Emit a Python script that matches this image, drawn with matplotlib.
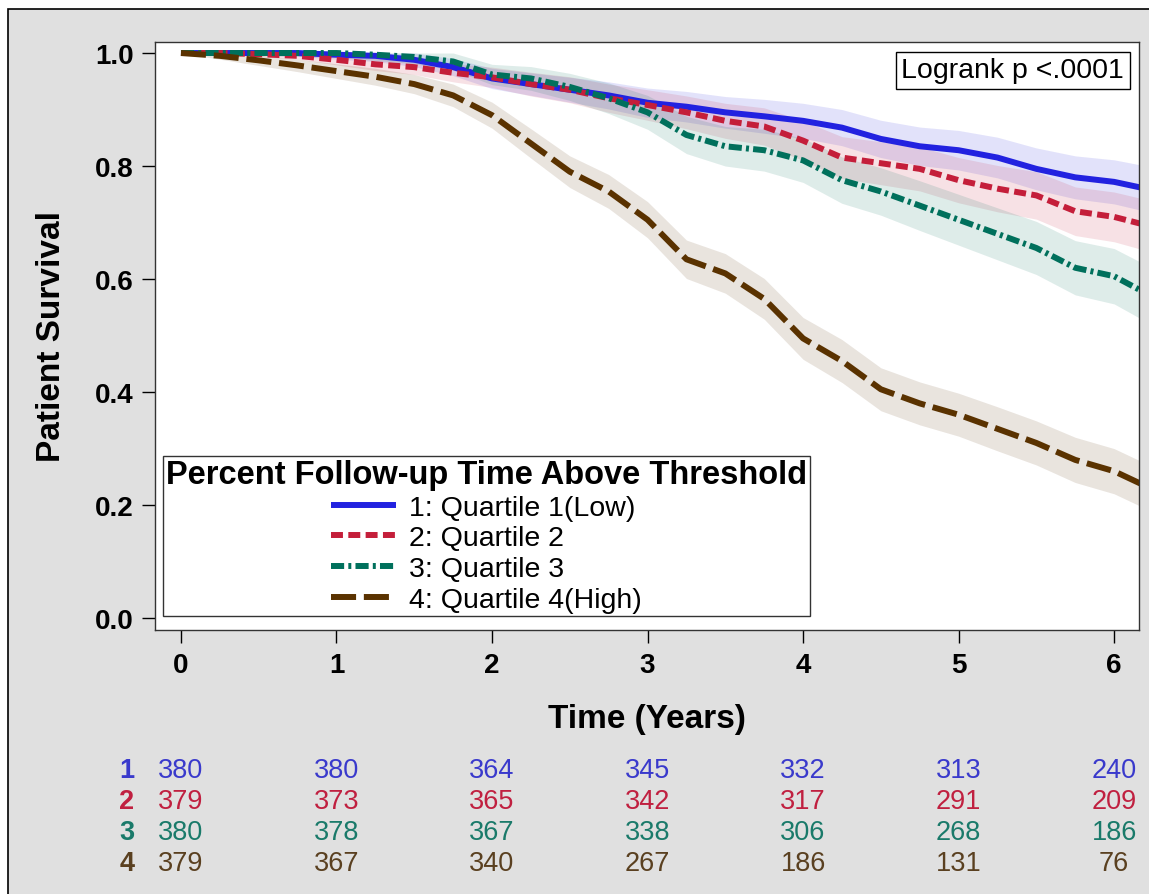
import numpy as np
import matplotlib
matplotlib.use('Agg')
import matplotlib.pyplot as plt
import matplotlib.transforms as mtransforms
from matplotlib.patches import Rectangle

plt.rcParams['font.family'] = ['Liberation Sans', 'DejaVu Sans']

# time grid (years)
times = [0, 0.25, 0.5, 0.75, 1.0, 1.25, 1.5, 1.75, 2.0, 2.25, 2.5, 2.75, 3.0,
         3.25, 3.5, 3.75, 4.0, 4.25, 4.5, 4.75, 5.0, 5.25, 5.5, 5.75, 6.0, 6.17]

surv_q1 = [1.0, 1.0, 1.0, 1.0, 0.997, 0.995, 0.988, 0.975, 0.955, 0.945, 0.935, 0.925, 0.912,
           0.905, 0.895, 0.888, 0.88, 0.868, 0.848, 0.835, 0.828, 0.815, 0.795, 0.78, 0.772, 0.762]
surv_q2 = [1.0, 1.0, 0.998, 0.995, 0.988, 0.98, 0.975, 0.965, 0.957, 0.945, 0.935, 0.92, 0.908,
           0.895, 0.88, 0.87, 0.845, 0.815, 0.805, 0.795, 0.775, 0.76, 0.748, 0.72, 0.71, 0.698]
surv_q3 = [1.0, 1.0, 1.0, 1.0, 1.0, 0.997, 0.993, 0.985, 0.962, 0.955, 0.94, 0.92, 0.895,
           0.855, 0.835, 0.828, 0.81, 0.775, 0.755, 0.73, 0.705, 0.68, 0.655, 0.62, 0.605, 0.58]
surv_q4 = [1.0, 0.995, 0.987, 0.978, 0.968, 0.958, 0.945, 0.925, 0.89, 0.84, 0.79, 0.755, 0.705,
           0.635, 0.61, 0.565, 0.495, 0.455, 0.405, 0.38, 0.36, 0.335, 0.31, 0.28, 0.26, 0.238]

# half width of the confidence bands
band_q1 = [0, 0.002, 0.004, 0.006, 0.008, 0.01, 0.012, 0.015, 0.018, 0.02, 0.022, 0.024, 0.026,
           0.027, 0.028, 0.03, 0.031, 0.032, 0.033, 0.034, 0.035, 0.036, 0.037, 0.038, 0.039, 0.04]
band_q2 = [0, 0.002, 0.004, 0.006, 0.009, 0.011, 0.013, 0.016, 0.018, 0.021, 0.023, 0.025, 0.027,
           0.029, 0.031, 0.033, 0.035, 0.037, 0.038, 0.039, 0.04, 0.041, 0.042, 0.043, 0.044, 0.045]
band_q3 = [0, 0.002, 0.004, 0.006, 0.008, 0.01, 0.012, 0.015, 0.018, 0.021, 0.024, 0.027, 0.03,
           0.033, 0.035, 0.037, 0.039, 0.041, 0.042, 0.044, 0.045, 0.046, 0.047, 0.048, 0.049, 0.05]
band_q4 = [0, 0.006, 0.009, 0.011, 0.013, 0.015, 0.017, 0.02, 0.023, 0.026, 0.028, 0.03, 0.032,
           0.034, 0.035, 0.036, 0.037, 0.038, 0.038, 0.038, 0.038, 0.039, 0.039, 0.04, 0.04, 0.04]

group_labels = ['1: Quartile 1(Low)', '2: Quartile 2', '3: Quartile 3', '4: Quartile 4(High)']
line_colors = ['#2222e0', '#c41e3a', '#00705c', '#5a3200']
text_colors = ['#3a3acc', '#c02040', '#1a7a6a', '#5a4020']

# numbers at risk
risk_times = [0, 1, 2, 3, 4, 5, 6]
risk_q1 = [380, 380, 364, 345, 332, 313, 240]
risk_q2 = [379, 373, 365, 342, 317, 291, 209]
risk_q3 = [380, 378, 367, 338, 306, 268, 186]
risk_q4 = [379, 367, 340, 267, 186, 131, 76]

W, H = 1149, 895
fig = plt.figure(figsize=(W / 100, H / 100), dpi=100, facecolor='white')

# gray page with black frame (drawn behind everything)
fig.patches.append(Rectangle((8 / W, -0.05), 1.0, 1.05 - 10 / H, transform=fig.transFigure,
                             facecolor='#e0e0e0', edgecolor='black', linewidth=1.2,
                             zorder=-10))

ax = fig.add_axes([155 / W, 1 - 631 / H, (1139 - 155) / W, (631 - 43) / H])
ax.set_facecolor('white')

t = np.array(times)
series = [surv_q1, surv_q2, surv_q3, surv_q4]
bands = [band_q1, band_q2, band_q3, band_q4]
dashes = [None, (2.0, 0.9), (2.2, 0.7, 0.5, 0.7), (4.2, 1.3)]

for s, b, c in zip(series, bands, line_colors):
    s = np.array(s)
    b = np.array(b)
    ax.fill_between(t, s - b, np.minimum(s + b, 1.0), color=c, alpha=0.13, linewidth=0)

handles = []
for s, c, d, lab in zip(series, line_colors, dashes, group_labels):
    ln, = ax.plot(t, s, color=c, linewidth=4.3, label=lab, solid_capstyle='butt',
                  dash_capstyle='butt')
    if d is not None:
        ln.set_dashes(d)
    handles.append(ln)

ax.set_xlim(-0.167, 6.16)
ax.set_ylim(-0.021, 1.0195)
ax.set_xticks(risk_times)
ax.set_yticks([0.0, 0.2, 0.4, 0.6, 0.8, 1.0])
ax.set_yticklabels(['0.0', '0.2', '0.4', '0.6', '0.8', '1.0'])
ax.tick_params(axis='both', direction='out', length=9.5, width=1, labelsize=20)
ax.tick_params(axis='y', pad=6)
ax.tick_params(axis='x', pad=6)
for lab in ax.get_xticklabels() + ax.get_yticklabels():
    lab.set_fontweight('bold')
for sp in ax.spines.values():
    sp.set_linewidth(1)
    sp.set_color('#333333')

ax.set_xlabel('Time (Years)', fontsize=24, fontweight='bold', labelpad=18)
ax.set_ylabel('Patient Survival', fontsize=24, fontweight='bold', labelpad=20)

ax.text(0.985, 0.974, 'Logrank p <.0001', transform=ax.transAxes, ha='right', va='top',
        fontsize=20.5, bbox=dict(boxstyle='square,pad=0.2', facecolor='white',
                                 edgecolor='black', linewidth=1))

leg = ax.legend(handles=handles, loc='lower left', bbox_to_anchor=(0.008, 0.024),
                title='Percent Follow-up Time Above Threshold',
                title_fontproperties={'size': 23.5, 'weight': 'bold'},
                fontsize=20.5, frameon=True, fancybox=False, handlelength=2.3,
                handletextpad=0.45, labelspacing=0.17, borderpad=0.1, borderaxespad=0.0)
leg.get_frame().set_edgecolor('black')
leg.get_frame().set_linewidth(1)

# numbers-at-risk table
trans = mtransforms.blended_transform_factory(ax.transData, fig.transFigure)
risk_rows = [risk_q1, risk_q2, risk_q3, risk_q4]
row_y = [771, 802, 833, 864]
for i, (row, y) in enumerate(zip(risk_rows, row_y)):
    fig.text(127 / W, 1 - y / H, str(i + 1), color=text_colors[i], fontsize=19.5,
             fontweight='bold', ha='center', va='center')
    for xt, n in zip(risk_times, row):
        ax.text(xt, 1 - y / H, str(n), transform=trans, color=text_colors[i], fontsize=19.5,
                ha='center', va='center', clip_on=False)

fig.savefig('out.png', dpi=100, facecolor=fig.get_facecolor())
